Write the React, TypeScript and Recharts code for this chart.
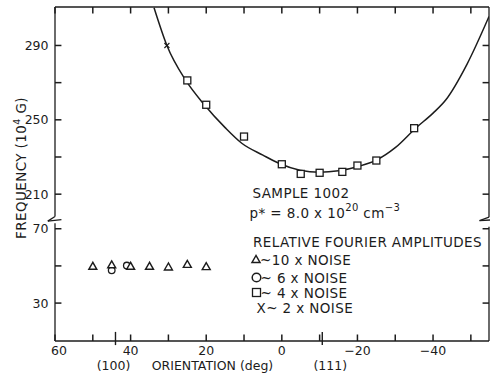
import React from "react";
import {
  ComposedChart,
  Line,
  Scatter,
  XAxis,
  YAxis,
  ReferenceLine,
} from "recharts";

// lower panel (30..70) is drawn on the same scale, shifted up under the break
const BREAK_OFFSET = 121.4;
const Y_DOMAIN = [131, 310.7];
const X_DOMAIN = [-54.8, 60];

const X_TICKS = [60, 50, 40, 30, 20, 10, 0, -10, -20, -30, -40, -50];
const X_LABELED = [60, 40, 20, 0, -20, -40];
const MILLER = [
  { deg: 44, label: "(100)" },
  { deg: -10.7, label: "(111)" },
];

const UPPER_TICKS = [210, 230, 250, 270, 290];
const UPPER_LABELED = [210, 250, 290];
const LOWER_TICKS = [30, 50, 70];
const LOWER_LABELED = [30, 70];

// fitted curve
const fitCurve = [
  { deg: 33.8, f: 310.3 },
  { deg: 30.4, f: 290 },
  { deg: 25.4, f: 271.2 },
  { deg: 20.5, f: 258.1 },
  { deg: 15, f: 245.8 },
  { deg: 10.6, f: 237.4 },
  { deg: 5, f: 231 },
  { deg: 0.5, f: 226.4 },
  { deg: -4.8, f: 222.9 },
  { deg: -10, f: 221.8 },
  { deg: -15, f: 222.6 },
  { deg: -20, f: 224.8 },
  { deg: -25, f: 228.3 },
  { deg: -30, f: 235 },
  { deg: -35.4, f: 245.5 },
  { deg: -40, f: 253.6 },
  { deg: -43.4, f: 260.8 },
  { deg: -49, f: 280 },
  { deg: -54.8, f: 305.6 },
];

const squares = [
  { deg: 25, f: 271.2 },
  { deg: 20, f: 258.1 },
  { deg: 10, f: 241 },
  { deg: 0, f: 226.1 },
  { deg: -5, f: 220.9 },
  { deg: -10, f: 221.5 },
  { deg: -16, f: 222 },
  { deg: -20, f: 225.4 },
  { deg: -25, f: 228.1 },
  { deg: -35, f: 245.5 },
];

const crosses = [{ deg: 30.4, f: 290 }];

const triangles = [
  { deg: 50, f: 49.8 },
  { deg: 45, f: 50.6 },
  { deg: 40, f: 49.8 },
  { deg: 35, f: 49.8 },
  { deg: 30, f: 49.4 },
  { deg: 25, f: 50.8 },
  { deg: 20, f: 49.6 },
];

const circles = [
  { deg: 45, f: 47.6 },
  { deg: 41, f: 50.2 },
];

const shiftDown = (pts: { deg: number; f: number }[]) =>
  pts.map((p) => ({ deg: p.deg, f: p.f + BREAK_OFFSET }));

const FONT = "'DejaVu Sans', sans-serif";
const INK = "#1c1c1c";
const MILLER_DX: Record<string, number> = { "(100)": -2, "(111)": 8 };

// tick mark length, in data units (about 6.5px on each axis)
const TICK_H = 3.5;
const TICK_W = 1.7;

function realValue(v: number) {
  return v > 200 ? v : Math.round(v - BREAK_OFFSET);
}

function BottomTick(props: any) {
  const { x, y, payload } = props;
  const v = payload.value as number;
  const miller = MILLER.find((m) => m.deg === v);
  if (miller) {
    return (
      <text
        x={x + MILLER_DX[miller.label]}
        y={y + 24}
        textAnchor="middle"
        dominantBaseline="central"
        fontSize={12.5}
        fontFamily={FONT}
        fill={INK}
      >
        {miller.label}
      </text>
    );
  }
  if (!X_LABELED.includes(v)) return <g />;
  return (
    <text
      x={x + (v === 60 ? 4 : 0)}
      y={y + 9.5}
      textAnchor="middle"
      dominantBaseline="central"
      fontSize={12.5}
      fontFamily={FONT}
      fill={INK}
    >
      {v < 0 ? `\u2212${-v}` : v}
    </text>
  );
}

function LeftTick(props: any) {
  const { x, y, payload } = props;
  const real = realValue(payload.value);
  const labeled = UPPER_LABELED.includes(real) || LOWER_LABELED.includes(real);
  if (!labeled) return <g />;
  return (
    <text
      x={x - 6.5}
      y={y}
      textAnchor="end"
      dominantBaseline="central"
      fontSize={12.5}
      fontFamily={FONT}
      fill={INK}
    >
      {real}
    </text>
  );
}

const Square = (p: any) => (
  <rect x={p.cx - 3.5} y={p.cy - 3.5} width={7} height={7} fill="#fff" stroke={INK} strokeWidth={1.3} />
);
const Cross = (p: any) => (
  <g stroke={INK} strokeWidth={1.2}>
    <line x1={p.cx - 2.5} y1={p.cy - 2.5} x2={p.cx + 2.5} y2={p.cy + 2.5} />
    <line x1={p.cx - 2.5} y1={p.cy + 2.5} x2={p.cx + 2.5} y2={p.cy - 2.5} />
  </g>
);
const Triangle = (p: any) => (
  <polygon
    points={`${p.cx},${p.cy - 4} ${p.cx - 4},${p.cy + 3} ${p.cx + 4},${p.cy + 3}`}
    fill="#fff"
    stroke={INK}
    strokeWidth={1.4}
  />
);
const Circle = (p: any) => (
  <circle cx={p.cx} cy={p.cy} r={3.3} fill="#fff" stroke={INK} strokeWidth={1.3} />
);

const txt = {
  fontFamily: FONT,
  fontSize: 13.5,
  letterSpacing: 0.4,
  fill: INK,
  dominantBaseline: "central" as const,
};

const seg = (x1: number, y1: number, x2: number, y2: number, w = 1.3) => (
  <ReferenceLine
    key={`${x1}-${y1}-${x2}-${y2}`}
    segment={[
      { x: x1, y: y1 },
      { x: x2, y: y2 },
    ]}
    stroke={INK}
    strokeWidth={w}
    ifOverflow="visible"
  />
);

export default function App() {
  const yTicks = [...LOWER_TICKS.map((v) => v + BREAK_OFFSET), ...UPPER_TICKS];
  const [yBottom, yTop] = Y_DOMAIN;
  const [xRight, xLeft] = X_DOMAIN;
  return (
    <div style={{ position: "absolute", left: 0, top: 0, background: "#fff" }}>
      <ComposedChart
        width={490}
        height={376}
        margin={{ top: 7, right: 1, bottom: 0, left: 0 }}
      >
        <XAxis
          dataKey="deg"
          type="number"
          domain={X_DOMAIN}
          reversed
          allowDataOverflow
          ticks={[...X_TICKS, ...MILLER.map((m) => m.deg)]}
          interval={0}
          tickSize={0}
          tickMargin={0}
          tickLine={false}
          tick={<BottomTick />}
          height={35}
          axisLine={false}
        />
        <YAxis
          type="number"
          domain={Y_DOMAIN}
          allowDataOverflow
          ticks={yTicks}
          interval={0}
          tickSize={0}
          tickMargin={0}
          tickLine={false}
          tick={<LeftTick />}
          width={55}
          axisLine={false}
          label={{
            content: () => (
              <text
                x={21}
                y={168}
                transform="rotate(-90, 21, 168)"
                textAnchor="middle"
                dominantBaseline="central"
                fontSize={13.5}
                letterSpacing={0.4}
                fontFamily={FONT}
                fill={INK}
              >
                FREQUENCY (10
                <tspan dy={-5} fontSize={9.5}>4</tspan>
                <tspan dy={5}> G)</tspan>
              </text>
            ),
          }}
        />

        {/* frame: top and bottom lines, broken left and right axes */}
        {seg(xLeft, yTop, xRight, yTop)}
        {seg(xLeft, yBottom, xRight, yBottom)}
        {seg(xLeft, 198, xLeft, yTop)}
        {seg(xLeft, 198, 61.9, 195.5)}
        {seg(61.9, 195.5, 58.3, 196.3)}
        {seg(xLeft, yBottom, xLeft, 194.4)}
        {seg(xRight, 197.6, xRight, yTop)}
        {seg(xRight, 197.6, -52.3, 195.8)}
        {seg(-52.3, 195.8, -55.1, 196.1)}
        {seg(xRight, yBottom, xRight, 192.5)}

        {/* inward tick marks on all four sides */}
        {X_TICKS.map((d) => seg(d, yBottom, d, yBottom + TICK_H, 1.5))}
        {X_TICKS.map((d) => seg(d, yTop, d, yTop - TICK_H, 1.5))}
        {yTicks.map((v) => seg(xLeft, v, xLeft - TICK_W, v, 1.5))}
        {yTicks.map((v) => seg(xRight, v, xRight + TICK_W, v, 1.5))}
        {MILLER.map((m) => seg(m.deg, yBottom - 2.2, m.deg, yBottom + 4.9, 1.4))}

        <Line
          data={fitCurve}
          dataKey="f"
          type="monotone"
          dot={false}
          activeDot={false}
          stroke={INK}
          strokeWidth={1.5}
          isAnimationActive={false}
        />
        <Scatter data={squares} dataKey="f" shape={Square} isAnimationActive={false} />
        <Scatter data={crosses} dataKey="f" shape={Cross} isAnimationActive={false} />
        <Scatter data={shiftDown(circles)} dataKey="f" shape={Circle} isAnimationActive={false} />
        <Scatter data={shiftDown(triangles)} dataKey="f" shape={Triangle} isAnimationActive={false} />

        <text x={252.5} y={193} {...txt}>SAMPLE  1002</text>
        <text x={249.5} y={213} {...txt}>
          p* = 8.0 x 10
          <tspan dy={-6} fontSize={10}>20</tspan>
          <tspan dy={6}> cm</tspan>
          <tspan dy={-6} fontSize={10}>{"\u22123"}</tspan>
        </text>
        <text x={253} y={242} {...txt}>RELATIVE FOURIER AMPLITUDES</text>

        <polygon points="256,255.5 252,262.5 260,262.5" fill="none" stroke={INK} strokeWidth={1.5} />
        <text x={260} y={260} {...txt}>~10 x NOISE</text>
        <circle cx={256.5} cy={277.5} r={4.3} fill="none" stroke={INK} strokeWidth={1.5} />
        <text x={260.5} y={277.5} {...txt}>~ 6 x NOISE</text>
        <rect x={252.5} y={288.5} width={8} height={8} fill="none" stroke={INK} strokeWidth={1.3} />
        <text x={260.5} y={292.5} {...txt}>~ 4 x NOISE</text>
        <text x={256.5} y={307.5} {...txt}>X~ 2 x NOISE</text>

        <text
          x={212.5}
          y={365}
          textAnchor="middle"
          dominantBaseline="central"
          fontSize={12.5}
          fontFamily={FONT}
          fill={INK}
        >
          ORIENTATION (deg)
        </text>
      </ComposedChart>
    </div>
  );
}
